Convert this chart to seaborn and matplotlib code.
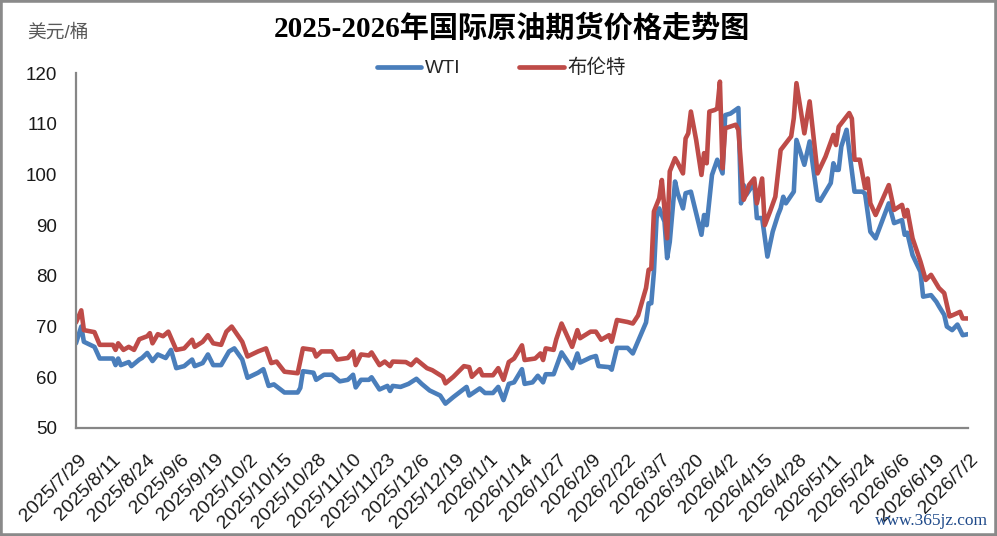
import pandas as pd
import matplotlib
matplotlib.use("Agg")
import matplotlib.pyplot as plt
import matplotlib.transforms as mtransforms
from matplotlib.lines import Line2D
from matplotlib.patches import Rectangle
import seaborn as sns

# ---- data ----
wti_dates = [
    "2025-07-29", "2025-07-31", "2025-08-01", "2025-08-05", "2025-08-07", "2025-08-12",
    "2025-08-13", "2025-08-14", "2025-08-15", "2025-08-18", "2025-08-19", "2025-08-22",
    "2025-08-23", "2025-08-25", "2025-08-27", "2025-08-29", "2025-09-01", "2025-09-03",
    "2025-09-05", "2025-09-08", "2025-09-11", "2025-09-12", "2025-09-15", "2025-09-17",
    "2025-09-19", "2025-09-22", "2025-09-25", "2025-09-27", "2025-09-30", "2025-10-02",
    "2025-10-06", "2025-10-08", "2025-10-10", "2025-10-12", "2025-10-16", "2025-10-21",
    "2025-10-22", "2025-10-23", "2025-10-27", "2025-10-28", "2025-10-31", "2025-11-03",
    "2025-11-06", "2025-11-09", "2025-11-11", "2025-11-12", "2025-11-14", "2025-11-17",
    "2025-11-18", "2025-11-21", "2025-11-24", "2025-11-25", "2025-11-26", "2025-11-29",
    "2025-12-02", "2025-12-05", "2025-12-07", "2025-12-10", "2025-12-14", "2025-12-16",
    "2025-12-19", "2025-12-24", "2025-12-25", "2025-12-29", "2025-12-31", "2026-01-03",
    "2026-01-05", "2026-01-07", "2026-01-09", "2026-01-11", "2026-01-14", "2026-01-15",
    "2026-01-18", "2026-01-20", "2026-01-22", "2026-01-23", "2026-01-26", "2026-01-29",
    "2026-02-02", "2026-02-04", "2026-02-05", "2026-02-09", "2026-02-11", "2026-02-12",
    "2026-02-16", "2026-02-17", "2026-02-19", "2026-02-23", "2026-02-25", "2026-03-02",
    "2026-03-03", "2026-03-04", "2026-03-05", "2026-03-06", "2026-03-07", "2026-03-09",
    "2026-03-10", "2026-03-11", "2026-03-13", "2026-03-14", "2026-03-16", "2026-03-17",
    "2026-03-19", "2026-03-23", "2026-03-24", "2026-03-25", "2026-03-27", "2026-03-29",
    "2026-03-31", "2026-04-01", "2026-04-03", "2026-04-06", "2026-04-07", "2026-04-08",
    "2026-04-09", "2026-04-12", "2026-04-13", "2026-04-15", "2026-04-17", "2026-04-19",
    "2026-04-21", "2026-04-22", "2026-04-23", "2026-04-24", "2026-04-27", "2026-04-28",
    "2026-05-01", "2026-05-03", "2026-05-06", "2026-05-07", "2026-05-11", "2026-05-12",
    "2026-05-13", "2026-05-14", "2026-05-15", "2026-05-17", "2026-05-20", "2026-05-23",
    "2026-05-24", "2026-05-26", "2026-05-28", "2026-06-02", "2026-06-04", "2026-06-07",
    "2026-06-08", "2026-06-09", "2026-06-11", "2026-06-14", "2026-06-15", "2026-06-18",
    "2026-06-20", "2026-06-21", "2026-06-23", "2026-06-24", "2026-06-26", "2026-06-28",
    "2026-06-30", "2026-07-02",
]
wti_prices = [
    66.7, 70.0, 67.0, 66.0, 63.7, 63.7,
    62.4, 63.7, 62.4, 63.0, 62.2, 63.5,
    63.8, 64.8, 63.2, 64.5, 63.8, 65.4,
    61.8, 62.2, 63.5, 62.2, 62.8, 64.5,
    62.4, 62.4, 65.1, 65.7, 63.5, 59.9,
    60.9, 61.6, 58.3, 58.6, 57.0, 57.0,
    57.9, 61.2, 60.9, 59.5, 60.5, 60.5,
    59.2, 59.5, 60.5, 58.0, 59.5, 59.5,
    60.0, 57.6, 58.3, 57.3, 58.3, 58.1,
    58.7, 59.7, 58.7, 57.4, 56.4, 54.8,
    56.1, 58.1, 56.4, 57.8, 56.9, 56.9,
    58.1, 55.5, 58.7, 59.0, 61.6, 58.7,
    59.0, 60.3, 59.0, 60.6, 60.6, 64.9,
    61.8, 64.7, 62.9, 63.9, 64.2, 62.2,
    62.0, 61.5, 65.8, 65.8, 64.7, 70.8,
    74.6, 74.6, 80.8, 91.4, 93.3, 90.7,
    83.5, 86.7, 98.6, 96.3, 93.3, 96.3,
    96.6, 88.1, 92.0, 90.0, 99.9, 102.9,
    100.2, 111.7, 112.0, 113.1, 94.3, 97.9,
    96.0, 98.3, 91.4, 91.4, 83.8, 88.7,
    92.0, 93.3, 95.6, 94.3, 96.6, 106.8,
    101.9, 106.5, 95.0, 94.8, 98.3, 102.2,
    100.9, 100.9, 105.5, 108.8, 96.6, 96.6,
    96.2, 88.7, 87.4, 94.3, 90.4, 91.0,
    88.1, 88.5, 84.1, 80.8, 75.9, 76.2,
    74.9, 74.0, 72.3, 70.0, 69.3, 70.4,
    68.3, 68.5,
]

brent_dates = [
    "2025-07-29", "2025-07-31", "2025-08-01", "2025-08-05", "2025-08-07", "2025-08-12",
    "2025-08-13", "2025-08-14", "2025-08-16", "2025-08-18", "2025-08-20", "2025-08-22",
    "2025-08-25", "2025-08-26", "2025-08-27", "2025-08-29", "2025-08-31", "2025-09-02",
    "2025-09-05", "2025-09-08", "2025-09-11", "2025-09-12", "2025-09-15", "2025-09-17",
    "2025-09-19", "2025-09-22", "2025-09-24", "2025-09-26", "2025-09-30", "2025-10-02",
    "2025-10-06", "2025-10-09", "2025-10-11", "2025-10-13", "2025-10-16", "2025-10-21",
    "2025-10-23", "2025-10-27", "2025-10-28", "2025-10-30", "2025-11-03", "2025-11-05",
    "2025-11-09", "2025-11-11", "2025-11-12", "2025-11-14", "2025-11-17", "2025-11-18",
    "2025-11-21", "2025-11-23", "2025-11-25", "2025-11-26", "2025-12-01", "2025-12-03",
    "2025-12-05", "2025-12-09", "2025-12-11", "2025-12-15", "2025-12-16", "2025-12-19",
    "2025-12-23", "2025-12-25", "2025-12-26", "2025-12-29", "2025-12-30", "2026-01-03",
    "2026-01-05", "2026-01-07", "2026-01-09", "2026-01-11", "2026-01-14", "2026-01-15",
    "2026-01-19", "2026-01-21", "2026-01-22", "2026-01-23", "2026-01-26", "2026-01-27",
    "2026-01-29", "2026-02-02", "2026-02-04", "2026-02-05", "2026-02-09", "2026-02-11",
    "2026-02-13", "2026-02-16", "2026-02-17", "2026-02-19", "2026-02-23", "2026-02-25",
    "2026-02-27", "2026-03-02", "2026-03-03", "2026-03-04", "2026-03-05", "2026-03-07",
    "2026-03-08", "2026-03-10", "2026-03-11", "2026-03-13", "2026-03-14", "2026-03-16",
    "2026-03-17", "2026-03-18", "2026-03-19", "2026-03-21", "2026-03-23", "2026-03-24",
    "2026-03-25", "2026-03-26", "2026-03-28", "2026-03-29", "2026-03-30", "2026-03-31",
    "2026-04-01", "2026-04-05", "2026-04-06", "2026-04-08", "2026-04-09", "2026-04-10",
    "2026-04-12", "2026-04-13", "2026-04-15", "2026-04-16", "2026-04-18", "2026-04-20",
    "2026-04-22", "2026-04-26", "2026-04-27", "2026-04-28", "2026-05-01", "2026-05-03",
    "2026-05-06", "2026-05-09", "2026-05-12", "2026-05-13", "2026-05-14", "2026-05-18",
    "2026-05-19", "2026-05-20", "2026-05-22", "2026-05-24", "2026-05-25", "2026-05-26",
    "2026-05-28", "2026-06-02", "2026-06-04", "2026-06-07", "2026-06-08", "2026-06-09",
    "2026-06-11", "2026-06-14", "2026-06-16", "2026-06-18", "2026-06-21", "2026-06-23",
    "2026-06-24", "2026-06-25", "2026-06-26", "2026-06-29", "2026-06-30", "2026-07-02",
]
brent_prices = [
    70.8, 73.2, 69.3, 68.9, 66.4, 66.4,
    65.4, 66.7, 65.4, 66.0, 65.4, 67.5,
    68.1, 68.7, 66.7, 68.5, 68.1, 69.0,
    65.4, 65.7, 67.4, 66.0, 67.0, 68.3,
    66.7, 66.4, 69.0, 70.0, 67.0, 64.1,
    65.1, 65.7, 62.8, 63.1, 61.1, 60.8,
    65.7, 65.4, 64.1, 65.1, 65.1, 63.5,
    63.8, 65.1, 62.4, 64.5, 64.3, 64.9,
    62.4, 63.1, 62.2, 63.1, 63.0, 62.4,
    63.5, 61.8, 61.4, 60.1, 58.8, 60.1,
    62.2, 62.0, 60.1, 61.6, 60.4, 60.4,
    61.8, 59.5, 63.0, 63.7, 66.3, 63.4,
    63.7, 64.7, 63.4, 65.7, 65.4, 67.5,
    70.6, 66.0, 69.3, 67.7, 69.0, 69.0,
    67.4, 68.3, 67.0, 71.3, 70.9, 70.6,
    72.2, 77.6, 81.2, 81.4, 92.7, 95.3,
    98.9, 87.4, 100.6, 103.2, 102.3, 100.2,
    107.1, 108.1, 112.4, 106.8, 99.9, 104.2,
    102.2, 112.4, 112.7, 113.0, 118.3, 101.2,
    109.1, 109.8, 108.8, 95.0, 96.2, 97.9,
    99.2, 94.3, 99.2, 90.0, 92.7, 95.6,
    104.8, 107.5, 111.1, 118.0, 108.1, 114.4,
    100.2, 103.5, 107.8, 105.8, 109.4, 112.1,
    111.0, 102.9, 102.9, 97.3, 99.2, 94.3,
    92.0, 97.9, 93.0, 94.0, 91.7, 93.0,
    87.4, 82.8, 79.2, 80.2, 77.6, 76.6,
    74.3, 72.0, 72.2, 72.9, 71.6, 71.6,
]

series_names = ["WTI", "布伦特"]
y_ticks = [50, 60, 70, 80, 90, 100, 110, 120]
start_date = "2025-07-29"
end_date = "2026-07-02"
tick_step_days = 13

title = "2025-2026年国际原油期货价格走势图"
unit_label = "美元/桶"
watermark = "www.365jz.com"

BLUE = "#4A7EBB"
RED = "#BE4B48"
GRAY = "#868686"

sns.set_theme(style="white")
plt.rcParams["font.family"] = ["Liberation Sans", "Noto Sans CJK SC", "DejaVu Sans"]

wti = pd.DataFrame({"date": pd.to_datetime(wti_dates), "price": wti_prices, "name": series_names[0]})
brent = pd.DataFrame({"date": pd.to_datetime(brent_dates), "price": brent_prices, "name": series_names[1]})
df = pd.concat([wti, brent], ignore_index=True)

fig = plt.figure(figsize=(9.97, 5.36), dpi=100)
ax = fig.add_axes([0.0762, 0.2015, 0.8947, 0.6623])

palette = {series_names[0]: BLUE, series_names[1]: RED}
sns.lineplot(data=df, x="date", y="price", hue="name", palette=palette,
             estimator=None, linewidth=3.3, legend=False, ax=ax)
for line in ax.lines:
    line.set_solid_joinstyle("round")
    line.set_solid_capstyle("round")

# axes
ax.set_xlim(pd.Timestamp(start_date), pd.Timestamp(end_date))
ax.set_ylim(y_ticks[0], y_ticks[-1])
ax.set_yticks(y_ticks)
ax.set_xlabel("")
ax.set_ylabel("")
ax.tick_params(axis="y", length=0, pad=13.5, labelsize=13.5, labelcolor="#1a1a1a")

tick_dates = pd.date_range(start_date, end_date, freq=f"{tick_step_days}D")
ax.set_xticks(tick_dates)
ax.set_xticklabels([f"{d.year}/{d.month}/{d.day}" for d in tick_dates],
                   rotation=45, ha="right", va="center", rotation_mode="anchor")
ax.tick_params(axis="x", length=0, pad=0, labelsize=14, labelcolor="#1a1a1a")
offset = mtransforms.ScaledTranslation(0.08, -0.29, fig.dpi_scale_trans)
for lab in ax.get_xticklabels():
    lab.set_transform(lab.get_transform() + offset)

sns.despine(ax=ax)
for side in ["left", "bottom"]:
    ax.spines[side].set_color(GRAY)
    ax.spines[side].set_linewidth(1.6)
ax.grid(False)

# legend
handles = [Line2D([0], [0], color=palette[n], lw=3.4, solid_capstyle="round") for n in series_names]
fig.legend(handles, series_names, loc="center", bbox_to_anchor=(0.503, 0.873), ncol=2,
           frameon=False, fontsize=14, handlelength=2.3, handletextpad=0.2,
           columnspacing=3.0, labelcolor="#262626")

# texts
fig.text(0.513, 0.948, title, ha="center", va="center", fontsize=21, fontweight="bold",
         family=["Liberation Serif", "Noto Sans CJK SC"], color="black")
fig.text(0.027, 0.938, unit_label, ha="left", va="center", fontsize=13.5, color="#595959")
fig.text(0.991, 0.028, watermark, ha="right", va="center", fontsize=12.5,
         color="#1F4A8A", family="Liberation Serif")

# outer frame
fig.patches.append(Rectangle((0, 0), 1, 1, transform=fig.transFigure, fill=False,
                             edgecolor="#8a8a8a", linewidth=4))

fig.savefig("out.png", dpi=100)
